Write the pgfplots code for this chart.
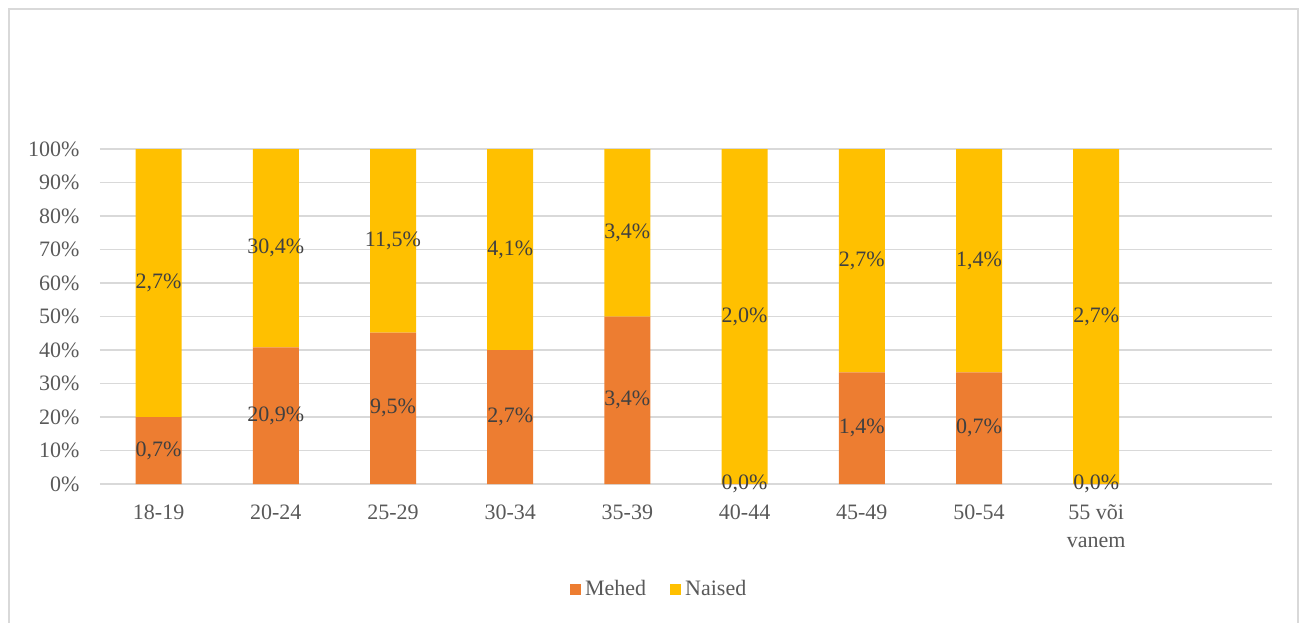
\documentclass[border=0pt]{standalone}
\usepackage{fontspec}
\setmainfont{Liberation Serif}
\usepackage{pgfplots}
\pgfplotsset{compat=1.18}
\usepackage{pgfplotstable}
\definecolor{meh}{HTML}{ED7D31}
\definecolor{nai}{HTML}{FFC000}
\definecolor{gridc}{HTML}{D9D9D9}
\definecolor{tickc}{HTML}{595959}
\definecolor{labc}{HTML}{404040}

\pgfplotstableread{
x m n ml nl
0 20 80 0,7 2,7
1 40.8 59.2 20,9 30,4
2 45.2 54.8 9,5 11,5
3 40 60 2,7 4,1
4 50 50 3,4 3,4
5 0.01 99.99 0,0 2,0
6 33.3 66.7 1,4 2,7
7 33.3 66.7 0,7 1,4
8 0.01 99.99 0,0 2,7
}\datatable

\begin{document}
\begin{tikzpicture}[x=1pt,y=1pt]
\path[use as bounding box] (0,0) rectangle (650,311);
\draw[gridc, line width=0.75pt] (4.5,-5) -- (4.5,306.5) -- (649,306.5) -- (649,-5);
\begin{axis}[
  at={(50pt,69pt)}, anchor=south west,
  width=586pt, height=167.5pt, scale only axis,
  ybar stacked, bar width=23pt,
  xmin=-0.5, xmax=9.5, ymin=0, ymax=100,
  xtick={0,...,8},
  xticklabels={18-19,20-24,25-29,30-34,35-39,40-44,45-49,50-54,{55 või\\vanem}},
  ytick={0,10,...,100},
  yticklabel={\pgfmathprintnumber{\tick}\%},
  /pgf/number format/assume math mode=true,
  axis line style={draw=none},
  major tick length=0pt,
  ymajorgrids, grid style={gridc, line width=0.75pt},
  tick label style={font=\fontsize{11}{14}\selectfont, text=tickc},
  xticklabel style={align=center, yshift=-7pt},
  yticklabel style={xshift=-6.7pt},
  legend style={at={(0.478,-0.316)}, anchor=center, draw=none, legend columns=2,
    font=\fontsize{11}{14}\selectfont, text=tickc,
    /tikz/every even column/.append style={column sep=10pt}},
  legend image code/.code={\path[#1, draw=none] (0pt,-2.75pt) rectangle (5.5pt,2.75pt);},
]
\addplot[fill=meh, draw=none, nodes near coords={\pgfplotspointmeta\%}, point meta=explicit symbolic,
  nodes near coords style={anchor=center, text=labc, font=\fontsize{11}{14}\selectfont}]
  table[x=x, y=m, meta=ml] {\datatable};
\addplot[fill=nai, draw=none, nodes near coords={\pgfplotspointmeta\%}, point meta=explicit symbolic,
  nodes near coords style={anchor=center, text=labc, font=\fontsize{11}{14}\selectfont}]
  table[x=x, y=n, meta=nl] {\datatable};
\legend{Mehed, Naised}
\end{axis}
\end{tikzpicture}
\end{document}
